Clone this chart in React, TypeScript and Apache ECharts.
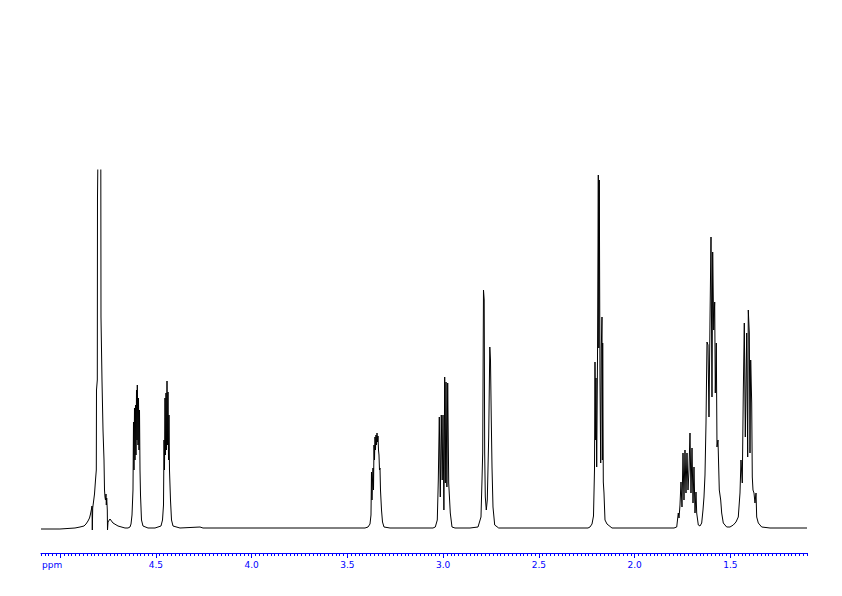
import React, { useEffect, useRef } from "react";
import * as echarts from "echarts";

// Spectrum trace, [chemical shift (ppm), intensity (a.u.)]
const peak478: [number, number][] = [
  [5.1, -1], [5.001, -1], [4.9225, 0], [4.8964, 1], [4.8755, 2], [4.865, 4], [4.8546, 7],
  [4.8467, 10], [4.8415, 14], [4.8373, 18], [4.8337, 22], [4.8321, -2], [4.83, 20],
  [4.8259, 26], [4.8206, 34], [4.8154, 48], [4.8112, 58], [4.8102, 138], [4.806, 148],
  [4.805, 330], [4.8024, 378], [4.7956, 488], [4.7877, 378], [4.7867, 211], [4.7815, 148],
  [4.7762, 98], [4.771, 68], [4.7684, 38], [4.7658, 31], [4.7632, 28], [4.7606, 34],
  [4.759, 23], [4.7569, 30], [4.7538, 18], [4.7527, -2], [4.7501, 6], [4.7397, 9],
  [4.724, 5], [4.6979, 2], [4.6614, 0],
];
const peak460: [number, number][] = [
  [4.6457, 0], [4.6353, 1], [4.63, 4], [4.6248, 13], [4.6196, 38], [4.617, 106],
  [4.6144, 58], [4.6118, 120], [4.6091, 68], [4.6065, 123], [4.6039, 73], [4.6013, 138],
  [4.5987, 88], [4.5971, 143], [4.5935, 83], [4.5909, 130], [4.5883, 78], [4.5856, 118],
  [4.583, 58], [4.5804, 33], [4.5752, 8], [4.5674, 2], [4.5413, 0],
];
const peak444: [number, number][] = [
  [4.5047, 0], [4.4734, 2], [4.4655, 8], [4.4603, 23], [4.4577, 88], [4.4551, 58],
  [4.4525, 130], [4.4499, 73], [4.4473, 135], [4.4447, 78], [4.442, 147], [4.4394, 83],
  [4.4368, 136], [4.4342, 68], [4.4316, 113], [4.429, 58], [4.4238, 28], [4.4185, 8],
  [4.4107, 2], [4.3742, 0], [4.2697, 1], [4.2541, 0], [4.0086, 0], [3.7475, 0],
  [3.5387, 0], [3.4342, 0],
];
const peak334: [number, number][] = [
  [3.4081, 0], [3.3924, 1], [3.382, 4], [3.3768, 13], [3.3742, 56], [3.3716, 28],
  [3.3689, 48], [3.3663, 60], [3.3637, 38], [3.3611, 83], [3.3585, 68], [3.3559, 91],
  [3.3533, 78], [3.3507, 93], [3.3481, 83], [3.3454, 95], [3.3428, 86], [3.3402, 92],
  [3.3376, 78], [3.335, 73], [3.3324, 58], [3.3298, 60], [3.3272, 38], [3.3219, 18],
  [3.3167, 6], [3.3089, 1], [3.2776, 0], [3.1731, 0], [3.0687, 0],
];
const peak300: [number, number][] = [
  [3.053, 0], [3.041, 1], [3.0306, 8], [3.0253, 48], [3.0201, 111], [3.0149, 31],
  [3.0097, 113], [3.005, 48], [3.0008, 113], [2.9961, 18], [2.9919, 151], [2.9888, 45],
  [2.9851, 146], [2.9804, 41], [2.9763, 145], [2.971, 45], [2.9627, 15], [2.9538, 1],
  [2.9381, 0],
];
const peak278: [number, number][] = [
  [2.8598, 0], [2.818, 1], [2.8024, 11], [2.7971, 48], [2.7935, 75], [2.7893, 238],
  [2.7857, 228], [2.7831, 75], [2.7799, 31], [2.7747, 18], [2.7695, 28], [2.7622, 91],
  [2.7564, 181], [2.7528, 168], [2.7486, 108], [2.7449, 61], [2.7397, 21], [2.7308, 3],
  [2.7099, 0], [2.5987, 0], [2.3898, 0], [2.2593, 0],
];
const peak218: [number, number][] = [
  [2.2436, 0], [2.2332, 1], [2.2227, 4], [2.2149, 12], [2.2097, 58], [2.2071, 166],
  [2.2039, 88], [2.2019, 150], [2.1982, 61], [2.194, 168], [2.1898, 353], [2.1872, 180],
  [2.1846, 348], [2.181, 148], [2.1773, 65], [2.1742, 180], [2.1705, 211], [2.1684, 68],
  [2.1669, 185], [2.1637, 46], [2.1601, 35], [2.1549, 8], [2.1444, 4], [2.1183, 0],
  [1.9721, 0], [1.8154, 0],
];
const peak172: [number, number][] = [
  [1.7945, 0], [1.7804, 1], [1.7721, 15], [1.7684, 10], [1.7632, 23], [1.758, 46],
  [1.7528, 21], [1.7475, 75], [1.7423, 28], [1.7371, 78], [1.7319, 35], [1.7267, 75],
  [1.7214, 38], [1.7162, 58], [1.711, 95], [1.7058, 35], [1.7005, 80], [1.6953, 25],
  [1.6901, 61], [1.6849, 15], [1.6797, 36], [1.676, 15], [1.6676, 3], [1.6588, 2],
];
const peak160: [number, number][] = [
  [1.6499, 5], [1.6431, 18], [1.6379, 31], [1.6327, 53], [1.6274, 105], [1.6222, 186],
  [1.617, 183], [1.6118, 111], [1.6066, 208], [1.6013, 291], [1.5961, 131], [1.5925, 276],
  [1.5872, 198], [1.582, 226], [1.5789, 135], [1.5737, 185], [1.57, 81], [1.5648, 88],
  [1.558, 38], [1.5507, 28], [1.5455, 15], [1.5371, 5], [1.5194, 1], [1.5021, 1],
];
const peak142: [number, number][] = [
  [1.4849, 3], [1.4708, 6], [1.4588, 11], [1.4499, 35], [1.4447, 68], [1.4379, 45],
  [1.4327, 135], [1.4274, 205], [1.4222, 91], [1.4149, 195], [1.4097, 71], [1.4066, 218],
  [1.4013, 195], [1.3977, 75], [1.394, 168], [1.3888, 125], [1.3857, 51], [1.382, 38],
  [1.3768, 35], [1.3716, 25], [1.3663, 35], [1.3627, 11], [1.3543, 5], [1.3366, 1],
  [1.2932, 0], [1.1888, 0], [1.1, 0],
];

// Axis ticks and labels (ppm)
const majorTicks = [5.0, 4.5, 4.0, 3.5, 3.0, 2.5, 2.0, 1.5];
const tickLabels = [4.5, 4.0, 3.5, 3.0, 2.5, 2.0, 1.5];
const axisName = "ppm";

const BLUE = "#0000ff";

export default function App() {
  const ref = useRef<HTMLDivElement>(null);
  useEffect(() => {
    if (!ref.current) return;
    const chart = echarts.init(ref.current, undefined, { renderer: "svg" });
    const trace = [
      ...peak478, ...peak460, ...peak444, ...peak334, ...peak300,
      ...peak278, ...peak218, ...peak172, ...peak160, ...peak142,
    ];
    chart.setOption({
      animation: false,
      backgroundColor: "#ffffff",
      grid: { left: 41, right: 35, top: 170, bottom: 43 },
      xAxis: [
        {
          type: "value",
          inverse: true,
          position: "bottom",
          min: 1.1,
          max: 5.1,
          interval: 0.02,
          axisLine: { show: true, onZero: false, lineStyle: { color: BLUE, width: 1 } },
          axisTick: { show: true, length: 3, lineStyle: { color: BLUE, width: 1 } },
          axisLabel: { show: false },
          splitLine: { show: false },
        },
        {
          type: "value",
          inverse: true,
          position: "bottom",
          min: 1.1,
          max: 5.1,
          axisLine: { show: false, onZero: false },
          axisTick: {
            show: true,
            length: 5,
            customValues: majorTicks,
            lineStyle: { color: BLUE, width: 1 },
          },
          axisLabel: {
            show: true,
            customValues: tickLabels,
            formatter: (v: number) => v.toFixed(1),
            color: BLUE,
            fontSize: 9,
            fontFamily: "DejaVu Sans",
            margin: 7,
          },
          splitLine: { show: false },
        },
      ],
      yAxis: {
        type: "value",
        min: -25,
        max: 358,
        show: false,
        splitLine: { show: false },
      },
      graphic: [
        {
          type: "text",
          left: 42,
          top: 560,
          style: {
            text: axisName,
            fill: BLUE,
            font: '9px "DejaVu Sans"',
          },
        },
      ],
      series: [
        {
          type: "line",
          xAxisIndex: 0,
          data: trace,
          showSymbol: false,
          symbol: "none",
          clip: true,
          lineStyle: { color: "#000000", width: 1 },
          silent: true,
        },
      ],
    });
    return () => chart.dispose();
  }, []);
  return (
    <div
      ref={ref}
      style={{ position: "absolute", left: 0, top: 0, width: 842, height: 596, background: "#fff" }}
    />
  );
}
